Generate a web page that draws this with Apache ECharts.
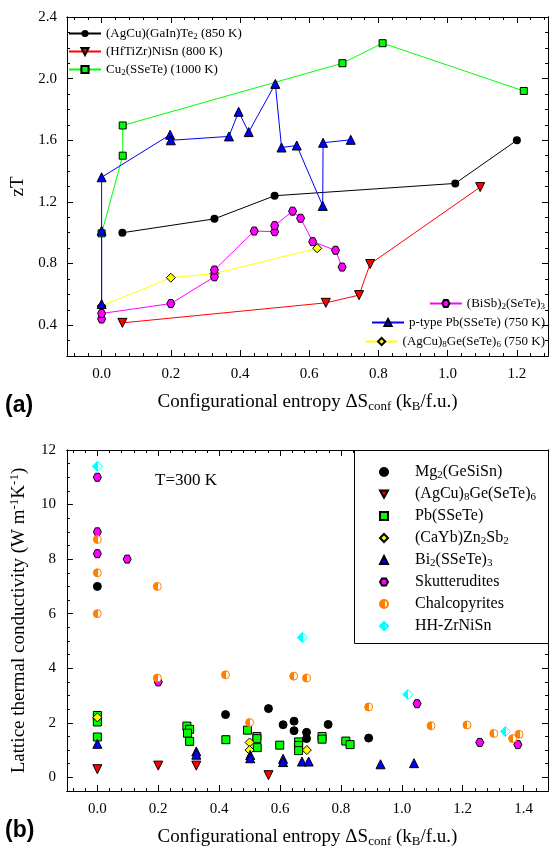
<!DOCTYPE html>
<html>
<head>
<meta charset="utf-8">
<script src="https://cdn.jsdelivr.net/npm/echarts@6/dist/echarts.min.js"></script>
<style>
  html, body { margin: 0; padding: 0; background: #fff; }
  #chart { width: 550px; height: 850px; }
</style>
</head>
<body>
<div id="chart"></div>
<script>
// ---------- Panel (a): figure of merit zT vs configurational entropy ----------
const agcuGaInTe = [[0.06, 1.00], [0.326, 1.09], [0.50, 1.24], [1.022, 1.32], [1.20, 1.60]];
const hfTiZrNiSn = [[0.06, 0.415], [0.648, 0.545], [0.744, 0.595], [0.776, 0.797], [1.094, 1.296]];
const cu2SSeTe = [[0.0, 0.996], [0.061, 1.50], [0.061, 1.696], [0.696, 2.10], [0.812, 2.23], [1.22, 1.92]];
const agcu8GeSeTeA = [[0.0, 0.524], [0.20, 0.708], [0.326, 0.735], [0.623, 0.899]];
const biSb2SeTe3 = [[0.0, 0.44], [0.0, 0.476], [0.20, 0.54], [0.326, 0.714], [0.326, 0.758], [0.441, 1.011],
                    [0.50, 1.007], [0.50, 1.046], [0.552, 1.14], [0.575, 1.094], [0.61, 0.942], [0.676, 0.886], [0.695, 0.777]];
const pTypePbSSeTe = [[0.0, 1.013], [0.0, 0.537], [0.0, 1.36], [0.198, 1.636], [0.20, 1.60], [0.368, 1.625],
                      [0.396, 1.785], [0.425, 1.653], [0.502, 1.966], [0.52, 1.553], [0.564, 1.566],
                      [0.639, 1.174], [0.64, 1.584], [0.72, 1.603]];

// ---------- Panel (b): lattice thermal conductivity at 300 K ----------
const mg2GeSiSn = [[0.0, 7.0], [0.421, 2.3], [0.562, 2.52], [0.61, 1.93], [0.646, 2.06], [0.646, 1.71],
                   [0.687, 1.65], [0.687, 1.42], [0.758, 1.94], [0.891, 1.44]];
const agcu8GeSeTeB = [[0.0, 0.3], [0.20, 0.43], [0.325, 0.43], [0.562, 0.08]];
const pbSSeTe = [[0.0, 2.27], [0.0, 2.03], [0.0, 1.48], [0.294, 1.88], [0.303, 1.76], [0.296, 1.62], [0.303, 1.32],
                 [0.422, 1.38], [0.493, 1.73], [0.524, 1.50], [0.524, 1.42], [0.525, 1.09], [0.599, 1.18],
                 [0.661, 1.30], [0.661, 1.17], [0.661, 0.98], [0.738, 1.50], [0.738, 1.40], [0.816, 1.33], [0.83, 1.20]];
const caYbZn2Sb2 = [[0.0, 2.2], [0.50, 1.28], [0.50, 1.00], [0.688, 1.00]];
const bi2SSeTe3 = [[0.0, 1.23], [0.325, 0.95], [0.325, 0.83], [0.502, 0.82], [0.502, 0.70], [0.61, 0.68],
                   [0.61, 0.56], [0.672, 0.58], [0.694, 0.58], [0.93, 0.48], [1.04, 0.52]];
const skutterudites = [[0.0, 11.0], [0.0, 9.0], [0.0, 8.2], [0.098, 8.0], [0.20, 3.5], [1.05, 2.7], [1.256, 1.28], [1.381, 1.2]];
const chalcopyrites = [[0.0, 8.72], [0.0, 7.5], [0.0, 6.0], [0.197, 7.0], [0.197, 3.64], [0.421, 3.76], [0.50, 2.01],
                       [0.645, 3.71], [0.687, 3.64], [0.891, 2.58], [1.096, 1.89], [1.214, 1.92], [1.302, 1.61],
                       [1.364, 1.42], [1.385, 1.58]];
const hhZrNiSn = [[0.0, 11.4], [0.673, 5.13], [1.02, 3.04], [1.34, 1.68]];

// ---------- axis ticks ----------
const entropyTicksA = [0.0, 0.2, 0.4, 0.6, 0.8, 1.0, 1.2];
const entropyTicksB = [0.0, 0.2, 0.4, 0.6, 0.8, 1.0, 1.2, 1.4];
const zTTicks = [0.4, 0.8, 1.2, 1.6, 2.0, 2.4];
const kappaTicks = [0, 2, 4, 6, 8, 10, 12];

function steps(from, to, step) {
  const out = [];
  for (let i = 0; from + i * step <= to + 1e-9; i++) out.push(+(from + i * step).toFixed(4));
  return out;
}
const entropyMinorA = steps(-0.08, 1.28, 0.04);
const entropyMinorB = steps(-0.08, 1.48, 0.04);
const zTMinor = steps(0.2, 2.4, 0.1);
const kappaMinor = steps(-0.5, 12, 0.5);

const SERIF = 'Liberation Serif';
const BLACK = '#000';

// rich-text styles for sub- and superscripts
function richSet(size) {
  const s = Math.round(size * 0.7);
  return {
    sub: { fontFamily: SERIF, fontSize: s, lineHeight: Math.round(size * 0.6), verticalAlign: 'bottom', color: BLACK },
    sup: { fontFamily: SERIF, fontSize: s, lineHeight: Math.round(size * 0.75), verticalAlign: 'top', color: BLACK }
  };
}

function axis(grid, pos, min, max, values, len, label, name) {
  const a = {
    type: 'value', gridIndex: grid, position: pos, min: min, max: max,
    axisLine: { show: true, onZero: false, lineStyle: { color: BLACK, width: 1 } },
    axisTick: { show: true, inside: true, length: len, customValues: values, lineStyle: { color: BLACK, width: 1 } },
    axisLabel: { show: false },
    splitLine: { show: false },
    minorTick: { show: false },
    silent: true
  };
  if (label) {
    a.axisLabel = Object.assign({ show: true, customValues: values, color: BLACK, fontFamily: SERIF, fontSize: 15 }, label);
  }
  if (name) Object.assign(a, name);
  return a;
}

const xTitle = {
  name: 'Configurational entropy \u0394S{sub|conf} (k{sub|B}/f.u.)',
  nameLocation: 'middle', nameGap: 35,
  nameTextStyle: { fontFamily: SERIF, fontSize: 19, lineHeight: 22, color: BLACK, rich: richSet(19) }
};

const xAxes = [
  axis(0, 'bottom', -0.1, 1.29, entropyTicksA, 6, { margin: 11, formatter: v => v.toFixed(1) }, xTitle),
  axis(0, 'bottom', -0.1, 1.29, entropyMinorA, 3),
  axis(0, 'top', -0.1, 1.29, entropyTicksA, 6),
  axis(0, 'top', -0.1, 1.29, entropyMinorA, 3),
  axis(1, 'bottom', -0.1, 1.48, entropyTicksB, 6, { margin: 11, formatter: v => v.toFixed(1) }, xTitle),
  axis(1, 'bottom', -0.1, 1.48, entropyMinorB, 3),
  axis(1, 'top', -0.1, 1.48, entropyTicksB, 6),
  axis(1, 'top', -0.1, 1.48, entropyMinorB, 3)
];

const yAxes = [
  axis(0, 'left', 0.2, 2.4, zTTicks, 6, { margin: 10, formatter: v => v.toFixed(1) }, {
    name: 'zT', nameLocation: 'middle', nameGap: 38,
    nameTextStyle: { fontFamily: SERIF, fontSize: 19, color: BLACK }
  }),
  axis(0, 'left', 0.2, 2.4, zTMinor, 3),
  axis(0, 'right', 0.2, 2.4, zTTicks, 6),
  axis(0, 'right', 0.2, 2.4, zTMinor, 3),
  axis(1, 'left', -0.5, 12, kappaTicks, 6, { margin: 11, formatter: v => String(Math.round(v)) }, {
    name: 'Lattice thermal conductivity (W m{sup|-1}K{sup|-1})', nameLocation: 'middle', nameGap: 33,
    nameTextStyle: { fontFamily: SERIF, fontSize: 19, lineHeight: 22, color: BLACK, rich: richSet(19) }
  }),
  axis(1, 'left', -0.5, 12, kappaMinor, 3),
  axis(1, 'right', -0.5, 12, kappaTicks, 6),
  axis(1, 'right', -0.5, 12, kappaMinor, 3)
];

const HEX = 'path://M-1,0 L-0.5,-0.866 L0.5,-0.866 L1,0 L0.5,0.866 L-0.5,0.866 Z';
const DOWN_TRIANGLE = 'path://M0,0 L10,0 L5,9 Z';

// left part coloured, right part white: a half-filled marker
function halfFill(color) {
  return {
    type: 'linear', x: 0, y: 0, x2: 1, y2: 0,
    colorStops: [
      { offset: 0, color: color }, { offset: 0.55, color: color },
      { offset: 0.55, color: '#fff' }, { offset: 1, color: '#fff' }
    ]
  };
}

function lineSeries(name, data, color, symbol, size, extra) {
  return Object.assign({
    type: 'line', name: name, data: data, xAxisIndex: 0, yAxisIndex: 0,
    symbol: symbol, symbolSize: size, showSymbol: true,
    lineStyle: { color: color, width: 1 },
    itemStyle: { color: color, borderColor: BLACK, borderWidth: 1 },
    emphasis: { disabled: true }, animation: false
  }, extra || {});
}

function dotSeries(name, data, fill, border, symbol, size, extra) {
  return Object.assign({
    type: 'scatter', name: name, data: data, xAxisIndex: 4, yAxisIndex: 4,
    symbol: symbol, symbolSize: size,
    itemStyle: { color: fill, borderColor: border, borderWidth: 1, opacity: 1 },
    emphasis: { disabled: true }, animation: false
  }, extra || {});
}

const AGCU8_B = '(AgCu){sub|8}Ge(SeTe){sub|6}';

const series = [
  lineSeries('(AgCu)(GaIn)Te{sub|2} (850 K)', agcuGaInTe, '#000000', 'circle', 8, { itemStyle: { color: '#000', borderWidth: 0 } }),
  lineSeries('(HfTiZr)NiSn (800 K)', hfTiZrNiSn, '#ff0000', 'triangle', 9, { symbolRotate: 180 }),
  lineSeries('Cu{sub|2}(SSeTe) (1000 K)', cu2SSeTe, '#00ff00', 'rect', 7),
  lineSeries('(AgCu){sub|8}Ge(SeTe){sub|6} (750 K)', agcu8GeSeTeA, '#ffff00', 'diamond', 9),
  lineSeries('(BiSb){sub|2}(SeTe){sub|3}', biSb2SeTe3, '#ff00ff', HEX, 8),
  lineSeries('p-type Pb(SSeTe) (750 K)', pTypePbSSeTe, '#0000ff', 'triangle', 9),

  dotSeries('Mg{sub|2}(GeSiSn)', mg2GeSiSn, '#000', '#000', 'circle', 8),
  dotSeries(AGCU8_B, agcu8GeSeTeB, '#ff0000', '#000', 'triangle', 9, { symbolRotate: 180 }),
  dotSeries('Pb(SSeTe)', pbSSeTe, '#00ff00', '#000', 'rect', 8),
  dotSeries('(CaYb)Zn{sub|2}Sb{sub|2}', caYbZn2Sb2, '#ffff00', '#000', 'diamond', 9),
  dotSeries('Bi{sub|2}(SSeTe){sub|3}', bi2SSeTe3, '#0000ff', '#000', 'triangle', 9),
  dotSeries('Skutterudites', skutterudites, '#ff00ff', '#000', HEX, 8),
  dotSeries('Chalcopyrites', chalcopyrites, halfFill('#ff8000'), '#ff8000', 'circle', 8),
  dotSeries('HH-ZrNiSn', hhZrNiSn, halfFill('#00ffff'), '#00ffff', 'diamond', 10)
];

const legendText = (size) => ({ fontFamily: SERIF, fontSize: size, color: BLACK, lineHeight: Math.round(size * 1.15), rich: richSet(size) });

function cornerLegend(name, top) {
  return {
    data: [name], orient: 'vertical', right: 5, top: top, padding: 0,
    itemWidth: 32, itemHeight: 9, selectedMode: false,
    textStyle: legendText(13)
  };
}

// the downward triangle needs its own legend icon
const tableItems = series.slice(6).map(s => s.name === AGCU8_B ? { name: s.name, icon: DOWN_TRIANGLE } : s.name);

const legends = [
  {
    data: [series[0].name, series[1].name, series[2].name],
    orient: 'vertical', left: 68, top: 26, padding: 0, itemGap: 3,
    itemWidth: 32, itemHeight: 9, selectedMode: false,
    textStyle: legendText(13)
  },
  cornerLegend(series[4].name, 296),
  cornerLegend(series[5].name, 315),
  cornerLegend(series[3].name, 334),
  {
    data: tableItems,
    orient: 'vertical', left: 379, top: 463, padding: 0, itemGap: 4,
    itemWidth: 8, itemHeight: 8, selectedMode: false, z: 10,
    textStyle: Object.assign(legendText(16), { lineHeight: 18, padding: [0, 0, 0, 22] })
  }
];

const chart = echarts.init(document.getElementById('chart'), null, { renderer: 'canvas' });
chart.setOption({
  animation: false,
  backgroundColor: '#fff',
  grid: [
    { left: 67, top: 17, width: 481, height: 339, containLabel: false },
    { left: 66, top: 450, width: 482, height: 341, containLabel: false }
  ],
  xAxis: xAxes,
  yAxis: yAxes,
  legend: legends,
  series: series,
  graphic: [
    { type: 'rect', z: 9, silent: true, shape: { x: 354.5, y: 450.5, width: 194, height: 193 },
      style: { fill: '#fff', stroke: BLACK, lineWidth: 1 } },
    { type: 'text', left: 155, top: 472, silent: true,
      style: { text: 'T=300 K', fontFamily: SERIF, fontSize: 17, fill: BLACK } },
    { type: 'text', left: 5, top: 394, silent: true,
      style: { text: '(a)', fontFamily: 'Liberation Sans', fontWeight: 'bold', fontSize: 23, fill: BLACK } },
    { type: 'text', left: 5, top: 819, silent: true,
      style: { text: '(b)', fontFamily: 'Liberation Sans', fontWeight: 'bold', fontSize: 23, fill: BLACK } }
  ]
});
</script>
</body>
</html>
